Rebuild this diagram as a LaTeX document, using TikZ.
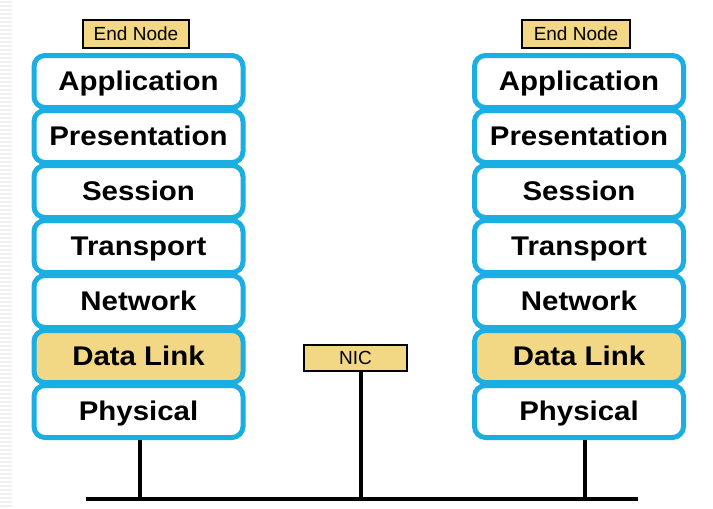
\documentclass[tikz,border=0pt]{standalone}
\usepackage{fontspec}
\setmainfont{Liberation Sans}
\newfontfamily\layerfont[FakeStretch=1.09]{Liberation Sans}
\definecolor{osiblue}{HTML}{1AAEE3}
\definecolor{osiyellow}{HTML}{F2D785}
\begin{document}
\begin{tikzpicture}[x=1pt,y=-1pt,
  layer/.style={draw=osiblue, line width=5pt, rounded corners=11pt, fill=white,
    minimum width=209pt, minimum height=52pt, inner sep=0pt,
    text height=18pt, text depth=0pt,
    font=\layerfont\bfseries\fontsize{27}{27}\selectfont},
  dl/.style={layer, fill=osiyellow},
  tag/.style={draw=black, line width=1.5pt, fill=osiyellow, inner sep=0pt,
    text height=13.5pt, text depth=0pt,
    font=\fontsize{19}{19}\selectfont},
  wire/.style={line width=4.5pt, black}]
\useasboundingbox (0,0) rectangle (713,509);
% faint stripes at left edge
\foreach \yy in {2,6,...,506} \draw[black!6, line width=1.5pt] (0,\yy) -- (12,\yy);
% left stack
\foreach \nm/\txt/\k in {appL/Application/0,preL/Presentation/1,sesL/Session/2,traL/Transport/3,netL/Network/4}
  \node[layer] (\nm) at (138.5,{81.5+55*\k}) {\txt};
\node[dl] (dlL) at (138.5,{81.5+55*5}) {Data Link};
\node[layer] (phyL) at (138.5,{81.5+55*6}) {Physical};
% right stack
\foreach \nm/\txt/\k in {appR/Application/0,preR/Presentation/1,sesR/Session/2,traR/Transport/3,netR/Network/4}
  \node[layer] (\nm) at (579,{81.5+55*\k}) {\txt};
\node[dl] (dlR) at (579,{81.5+55*5}) {Data Link};
\node[layer] (phyR) at (579,{81.5+55*6}) {Physical};
% labels
\node[tag, minimum width=106pt, minimum height=28pt] (endL) at (136,34) {End Node};
\node[tag, minimum width=108pt, minimum height=28pt] (endR) at (576,34) {End Node};
\node[tag, minimum width=103pt, minimum height=26pt] (nic) at (355.5,358) {NIC};
% bus
\coordinate (busL) at (86,499);
\coordinate (busR) at (638,499);
\draw[wire] (busL) -- (busR);
\draw[wire] ([xshift=1.5pt]phyL.south) -- ([xshift=1.5pt]phyL.south |- busL);
\draw[wire] ([xshift=6pt]phyR.south) -- ([xshift=6pt]phyR.south |- busR);
\draw[wire] ([xshift=5.5pt]nic.south) -- ([xshift=5.5pt]nic.south |- busL);
\end{tikzpicture}
\end{document}
